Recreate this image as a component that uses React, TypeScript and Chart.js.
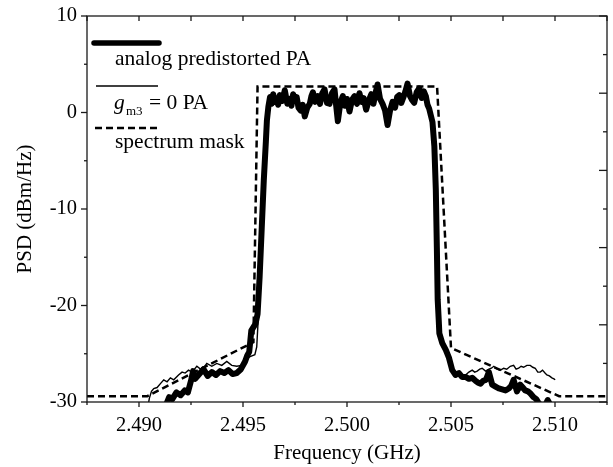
import React, { useEffect, useRef } from "react";
import { Chart, registerables } from "chart.js";

Chart.register(...registerables);

// ---------- data ----------
const thickFreq = [
  2.4913, 2.49145, 2.4916, 2.4918, 2.492, 2.4922, 2.49235, 2.4925, 2.4926, 2.4927,
  2.4929, 2.4931, 2.4933, 2.4935, 2.4937, 2.4939, 2.4941, 2.4943, 2.4945, 2.4947,
  2.4949, 2.4951, 2.4952, 2.4953, 2.4954, 2.4956, 2.4957, 2.4958, 2.4959, 2.496,
  2.4961, 2.49615,
  2.49622, 2.4963, 2.49638, 2.49645, 2.49653, 2.49661, 2.49669, 2.49677, 2.49689, 2.49701,
  2.49713, 2.49725, 2.49733, 2.49741, 2.4975, 2.49758, 2.49767, 2.49777, 2.49787, 2.49797,
  2.49809, 2.49821, 2.49829, 2.49836, 2.49847, 2.49859, 2.4987, 2.49881, 2.49892, 2.49904,
  2.49916, 2.49928, 2.4994, 2.49948, 2.49956, 2.49968, 2.4998, 2.4999, 2.5, 2.50012,
  2.50024, 2.50036, 2.50048, 2.5006, 2.5007, 2.5008, 2.50092, 2.50104, 2.50117, 2.50127,
  2.50137, 2.50147, 2.50159, 2.50171, 2.50183, 2.50195, 2.50207, 2.50219, 2.50231, 2.50241,
  2.50251, 2.50261, 2.5027, 2.50281, 2.50291, 2.50303, 2.50313, 2.50323, 2.50335, 2.50347,
  2.50359, 2.50369, 2.50379, 2.50387, 2.50395, 2.50403, 2.50411, 2.5042, 2.50427, 2.50432,
  2.50436, 2.50441, 2.50444, 2.50458, 2.50475, 2.5049, 2.50506, 2.50522, 2.50538, 2.50553,
  2.5057, 2.50586, 2.50602, 2.50618, 2.5063, 2.50642, 2.50655, 2.50668, 2.50682, 2.50698,
  2.50714, 2.5073, 2.50746, 2.50762, 2.50778, 2.5079, 2.50801, 2.50817, 2.50833, 2.50845,
  2.50857, 2.5087, 2.50881, 2.50897, 2.5091, 2.50921, 2.50935, 2.5095, 2.50965, 2.5098,
];
const thickPsd = [
  -30.3, -29.5, -29.7, -29.0, -29.3, -28.8, -29.0, -27.8, -26.8, -27.6,
  -27.1, -26.6, -27.3, -26.9, -27.2, -26.8, -27.0, -26.7, -27.1, -27.0,
  -26.6, -25.8, -25.2, -24.8, -22.6, -21.9, -20.9, -17.0, -12.0, -7.0,
  -3.0, -0.8,
  0.6, 1.6, 0.9, 1.9, 1.1, 1.5, 0.8, 1.8, 1.2, 2.3,
  0.9, 1.4, 0.7, 1.9, 1.3, 1.6, 0.5, 0.2, 0.8, -0.4,
  0.5, 0.9, 1.7, 2.1, 1.1, 1.7, 0.9, 2.0, 2.4, 1.0,
  0.9, 2.0, 2.4, 0.7, -0.9, 1.0, 1.7, 0.7, 1.4, 0.1,
  1.3, 1.7, 0.9, 2.0, 1.1, 1.5, 0.3, 1.2, 1.9, 0.9,
  2.0, 2.9, 1.4, 0.9, 0.2, -1.3, 0.2, 1.1, 0.5, 1.6,
  1.8, 1.0, 1.5, 2.2, 3.0, 1.7, 1.3, 1.0, 2.1, 2.5,
  1.5, 2.2, 1.7, 0.8, 0.4, -0.3, -1.0, -3.5, -8.0, -14.0,
  -19.4, -21.5, -22.9, -23.9, -24.6, -25.4, -26.7, -27.2, -27.0, -27.4,
  -27.4, -27.6, -27.5, -27.8, -28.0, -28.1, -27.8, -27.7, -26.9, -28.2,
  -28.4, -28.6, -28.7, -28.8, -28.6, -28.3, -27.7, -28.9, -28.2, -28.5,
  -28.8, -28.9, -29.1, -29.5, -29.7, -30.1, -30.4, -30.5, -29.8, -30.4,
];

const thinFreq = [
  2.49045, 2.4905, 2.4906, 2.49071, 2.49087, 2.49103, 2.49119, 2.49135, 2.49151, 2.49167,
  2.4919, 2.49207, 2.49222, 2.49238, 2.49255, 2.49278, 2.49302, 2.49326, 2.4935, 2.49374,
  2.49398, 2.49422, 2.49446, 2.4947, 2.49494, 2.49518, 2.49534, 2.49557, 2.49566, 2.49573,
  2.49581, 2.4959, 2.496, 2.49608, 2.49615,
  2.49622, 2.4963, 2.49638, 2.49645, 2.49653, 2.49661, 2.49669, 2.49677, 2.49689, 2.49701,
  2.49713, 2.49725, 2.49733, 2.49741, 2.4975, 2.49758, 2.49767, 2.49777, 2.49787, 2.49797,
  2.49809, 2.49821, 2.49829, 2.49836, 2.49847, 2.49859, 2.4987, 2.49881, 2.49892, 2.49904,
  2.49916, 2.49928, 2.4994, 2.49948, 2.49956, 2.49968, 2.4998, 2.4999, 2.5, 2.50012,
  2.50024, 2.50036, 2.50048, 2.5006, 2.5007, 2.5008, 2.50092, 2.50104, 2.50117, 2.50127,
  2.50137, 2.50147, 2.50159, 2.50171, 2.50183, 2.50195, 2.50207, 2.50219, 2.50231, 2.50241,
  2.50251, 2.50261, 2.5027, 2.50281, 2.50291, 2.50303, 2.50313, 2.50323, 2.50335, 2.50347,
  2.50359, 2.50369, 2.50379, 2.50387, 2.50395, 2.50403, 2.50411, 2.5042, 2.50427, 2.50432,
  2.50436, 2.50441, 2.50444, 2.50458, 2.50475, 2.5049, 2.505, 2.5051, 2.5052, 2.50534,
  2.5055, 2.5057, 2.50586, 2.50602, 2.50614, 2.50626, 2.50638, 2.5065, 2.50666, 2.50682,
  2.50694, 2.50706, 2.50722, 2.50738, 2.50753, 2.50768, 2.50785, 2.50801, 2.50813, 2.50825,
  2.50837, 2.50849, 2.50865, 2.50881, 2.50893, 2.50905, 2.50917, 2.50929, 2.5094, 2.50952,
  2.50961, 2.50973, 2.50985, 2.50995, 2.51001,
];
const thinPsd = [
  -30.2, -29.6, -28.9, -28.6, -28.5, -28.1, -27.7, -27.9, -27.5, -27.7,
  -27.2, -26.9, -27.0, -26.7, -26.9, -26.3, -26.7, -26.0, -26.3, -26.0,
  -26.2, -25.8, -26.2, -26.3, -26.2, -25.5, -25.3, -25.1, -24.3, -21.5,
  -19.4, -13.0, -7.5, -3.0, -0.6,
  0.5, 1.3, 1.1, 1.6, 1.1, 1.5, 1.0, 1.5, 1.4, 2.0,
  1.1, 1.4, 1.0, 1.6, 1.3, 1.4, 0.8, 0.5, 0.9, 0.0,
  0.6, 1.0, 1.5, 1.8, 1.3, 1.5, 1.2, 1.7, 2.1, 1.3,
  1.2, 1.7, 2.0, 1.0, -0.4, 0.8, 1.4, 1.0, 1.4, 0.5,
  1.3, 1.5, 1.1, 1.7, 1.3, 1.3, 0.6, 1.2, 1.6, 1.1,
  1.7, 2.5, 1.6, 1.1, 0.5, -0.8, 0.4, 1.1, 0.8, 1.4,
  1.6, 1.2, 1.5, 2.0, 2.6, 1.7, 1.5, 1.3, 1.9, 2.2,
  1.7, 2.0, 1.6, 1.0, 0.6, 0.0, -1.0, -3.8, -8.5, -14.5,
  -19.8, -21.8, -23.0, -24.0, -24.8, -25.8, -26.3, -26.9, -27.2, -27.0,
  -27.2, -27.2, -26.9, -26.7, -26.9, -26.8, -26.6, -26.5, -26.8, -26.6,
  -26.5, -26.3, -26.6, -26.7, -26.5, -26.6, -26.3, -26.2, -26.6, -26.5,
  -26.3, -26.4, -26.2, -26.2, -26.4, -26.5, -26.9, -26.9, -26.7, -27.0,
  -27.2, -27.3, -27.5, -27.6, -27.7,
];

const maskFreq = [2.4875, 2.4904, 2.4955, 2.4957, 2.50433, 2.505, 2.5102, 2.5125];
const maskPsd = [-29.4, -29.4, -23.8, 2.7, 2.7, -24.4, -29.4, -29.4];

const xTickValues = [2.49, 2.495, 2.5, 2.505, 2.51];
const xTickLabels = ["2.490", "2.495", "2.500", "2.505", "2.510"];
const xMinorValues = [2.4875, 2.4925, 2.4975, 2.5025, 2.5075, 2.5125];
const yTickValues = [-30, -20, -10, 0, 10];
const yMinorValues = [-25, -15, -5, 5];
const yRightMajor = [-30, -22, -14, -6, 2, 10];
const yRightMinor = [-26, -18, -10, -2, 6];

const seriesNames = ["analog predistorted PA", "gm3 = 0 PA", "spectrum mask"];
const xTitle = "Frequency (GHz)";
const yTitle = "PSD (dBm/Hz)";

const FONT = "'Liberation Serif', 'Times New Roman', serif";

const toPoints = (xs: number[], ys: number[]) => xs.map((x, i) => ({ x, y: ys[i] }));

const framePlugin = {
  id: "frameAndLegend",
  afterDraw(chart: any) {
    const { ctx, chartArea } = chart;
    const xs = chart.scales.x;
    const ys = chart.scales.y;
    const { left, right, top, bottom } = chartArea;
    ctx.save();
    ctx.strokeStyle = "#1a1a1a";
    ctx.lineWidth = 1.3;
    ctx.setLineDash([]);
    ctx.strokeRect(left, top, right - left, bottom - top);

    const line = (x1: number, y1: number, x2: number, y2: number) => {
      ctx.beginPath();
      ctx.moveTo(x1, y1);
      ctx.lineTo(x2, y2);
      ctx.stroke();
    };
    xTickValues.forEach((v) => {
      const px = xs.getPixelForValue(v);
      line(px, bottom, px, bottom + 5);
      line(px, top, px, top + 5);
    });
    xMinorValues.forEach((v) => {
      const px = xs.getPixelForValue(v);
      line(px, bottom, px, bottom + 3);
      line(px, top, px, top + 5);
    });
    yTickValues.forEach((v) => {
      const py = ys.getPixelForValue(v);
      line(left - 6, py, left, py);
    });
    yMinorValues.forEach((v) => {
      const py = ys.getPixelForValue(v);
      line(left - 3, py, left, py);
    });
    yRightMajor.forEach((v) => {
      const py = ys.getPixelForValue(v);
      line(right - 8, py, right, py);
    });
    yRightMinor.forEach((v) => {
      const py = ys.getPixelForValue(v);
      line(right - 4, py, right, py);
    });

    // legend
    ctx.strokeStyle = "#000";
    ctx.fillStyle = "#000";
    ctx.lineCap = "round";
    ctx.lineWidth = 5.5;
    line(94, 43, 159, 43);
    ctx.lineCap = "butt";
    ctx.lineWidth = 1.5;
    line(96, 86, 158, 86);
    ctx.lineWidth = 2.5;
    ctx.setLineDash([7, 4]);
    line(95, 128, 160, 128);
    ctx.setLineDash([]);

    ctx.textAlign = "left";
    ctx.textBaseline = "alphabetic";
    ctx.font = `21.5px ${FONT}`;
    ctx.fillText(seriesNames[0], 115, 65);
    ctx.font = `italic 21.5px ${FONT}`;
    ctx.fillText("g", 114, 109);
    ctx.font = `13px ${FONT}`;
    ctx.fillText("m3", 126, 115);
    ctx.font = `21.5px ${FONT}`;
    ctx.fillText("= 0 PA", 149, 109);
    ctx.fillText(seriesNames[2], 115, 148);
    ctx.restore();
  },
};

export default function App() {
  const ref = useRef<HTMLCanvasElement | null>(null);
  useEffect(() => {
    if (!ref.current) return;
    const chart = new Chart(ref.current, {
      type: "line",
      data: {
        datasets: [
          {
            label: seriesNames[2],
            data: toPoints(maskFreq, maskPsd),
            borderColor: "#000",
            borderWidth: 2.5,
            borderDash: [7, 4],
            pointRadius: 0,
            fill: false,
            tension: 0,
            clip: 0,
            order: 0,
          },
          {
            label: seriesNames[1],
            data: toPoints(thinFreq, thinPsd),
            borderColor: "#000",
            borderWidth: 1.4,
            pointRadius: 0,
            fill: false,
            tension: 0,
            clip: 0,
            order: 1,
          },
          {
            label: seriesNames[0],
            data: toPoints(thickFreq, thickPsd),
            borderColor: "#000",
            borderWidth: 6,
            borderJoinStyle: "round",
            borderCapStyle: "round",
            pointRadius: 0,
            fill: false,
            tension: 0,
            clip: 0,
            order: 2,
          },
        ] as any,
      },
      options: {
        responsive: false,
        animation: false,
        events: [],
        layout: { padding: { top: 16, right: 6, left: 0, bottom: 0 } },
        plugins: { legend: { display: false }, tooltip: { enabled: false } },
        scales: {
          x: {
            type: "linear",
            min: 2.4875,
            max: 2.5125,
            grid: { display: false, drawTicks: false },
            border: { display: false },
            afterBuildTicks: (s: any) => {
              s.ticks = xTickValues.map((v) => ({ value: v }));
            },
            afterFit: (s: any) => {
              s.height = 65;
              s.paddingLeft = 0;
              s.paddingRight = 0;
            },
            ticks: {
              autoSkip: false,
              maxRotation: 0,
              padding: 11,
              color: "#000",
              font: { family: FONT, size: 20.5 },
              callback: (v: any) => {
                const i = xTickValues.findIndex((t) => Math.abs(t - Number(v)) < 1e-7);
                return i >= 0 ? xTickLabels[i] : "";
              },
            },
            title: {
              display: true,
              text: xTitle,
              color: "#000",
              font: { family: FONT, size: 21 },
              padding: { top: 0, bottom: 1 },
            },
          },
          y: {
            type: "linear",
            min: -30,
            max: 10,
            grid: { display: false, drawTicks: false },
            border: { display: false },
            afterBuildTicks: (s: any) => {
              s.ticks = yTickValues.map((v) => ({ value: v }));
            },
            afterFit: (s: any) => {
              s.width = 87;
              s.paddingTop = 0;
              s.paddingBottom = 0;
            },
            ticks: {
              padding: 10,
              color: "#000",
              font: { family: FONT, size: 20.5 },
              callback: (v: any) => String(v),
            },
            title: {
              display: true,
              text: yTitle,
              color: "#000",
              font: { family: FONT, size: 21 },
              padding: { top: 13, bottom: 0 },
            },
          },
        },
      } as any,
      plugins: [framePlugin],
    });
    return () => chart.destroy();
  }, []);
  return (
    <div style={{ position: "fixed", left: 0, top: 0, width: 613, height: 467, background: "#fff" }}>
      <canvas ref={ref} width={613} height={467} style={{ display: "block" }} />
    </div>
  );
}
